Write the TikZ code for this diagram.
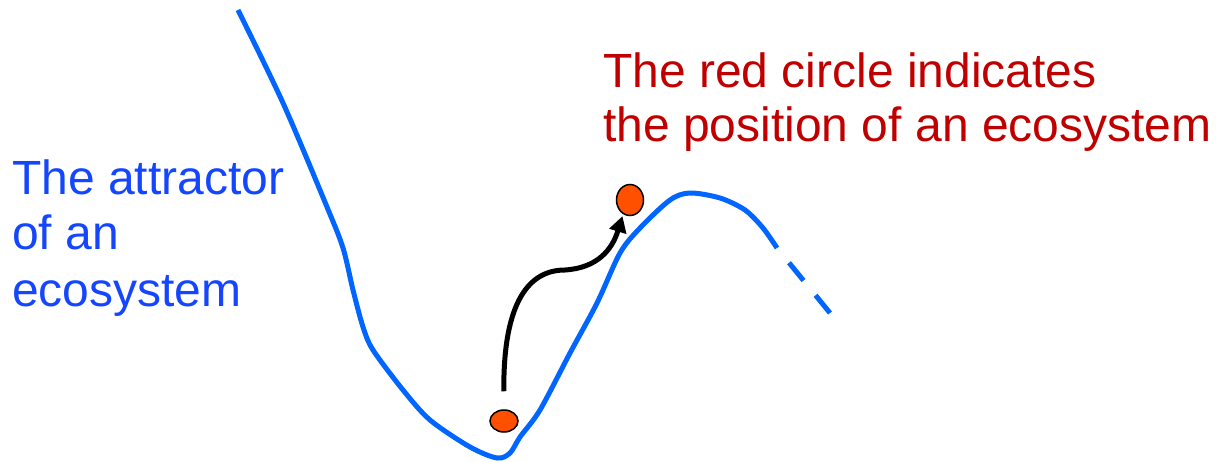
\documentclass[tikz,border=0pt]{standalone}
\usepackage{fontspec}
\setmainfont{Liberation Sans}
\usetikzlibrary{arrows.meta,shapes.geometric}
\definecolor{curveblue}{RGB}{0,102,255}
\definecolor{textblue}{RGB}{20,70,255}
\definecolor{textred}{RGB}{192,0,0}
\definecolor{dotorange}{RGB}{255,80,0}
\tikzset{
  curve/.style={draw=curveblue, line width=5pt},
  dot/.style={ellipse, draw=black, line width=1.5pt, fill=dotorange, inner sep=0pt},
  move/.style={draw=black, line width=5pt, -{Triangle[length=16pt,width=17pt]}},
  bluetxt/.style={anchor=base west, inner sep=0pt, text=textblue, font=\fontsize{48}{54}\selectfont},
  redtxt/.style={anchor=base west, inner sep=0pt, text=textred, font=\fontsize{48}{54}\selectfont},
}
\begin{document}
\begin{tikzpicture}[x=1pt,y=-1pt]
\useasboundingbox (0,0) rectangle (1217,462);
% attractor curve
\draw[curve, line join=round] plot[smooth, tension=0.5] coordinates {
 (238,10) (283,103) (327,207) (343,248) (353,290) (363,327) (373,350)
 (403,390) (430,420) (470,447) (497,458) (510,453) (520,437) (540,410)
 (570,353) (597,303) (620,253) (640,228) (670,200) (690,193) (720,198)
 (745,210) (763,228) (777,248)};
\coordinate (dashstart) at (777,248);
\coordinate (dashend) at (830,313);
\draw[curve, dash pattern={on 0pt off 19pt on 23pt off 19pt on 23pt}] (dashstart) -- (dashend);
% ecosystem positions
\node[dot, minimum width=28pt, minimum height=22pt] (lo) at (504,421) {};
\node[dot, minimum width=27pt, minimum height=31pt] (hi) at (630,200) {};
% move arrow
\draw[move, shorten <=18pt, shorten >=2pt] (lo.north) .. controls (503,300) and (530,270) .. (565,270)
  .. controls (597,268) and (612,250) .. (hi.244);
% texts
\node[bluetxt] (t1) at (12,195) {The attractor};
\node[bluetxt] (t2) at (12,250) {of an};
\node[bluetxt] (t3) at (12,306) {ecosystem};
\node[redtxt] (r1) at (603,88) {The red circle indicates};
\node[redtxt] (r2) at (603,142) {the position of an ecosystem};
\end{tikzpicture}
\end{document}
